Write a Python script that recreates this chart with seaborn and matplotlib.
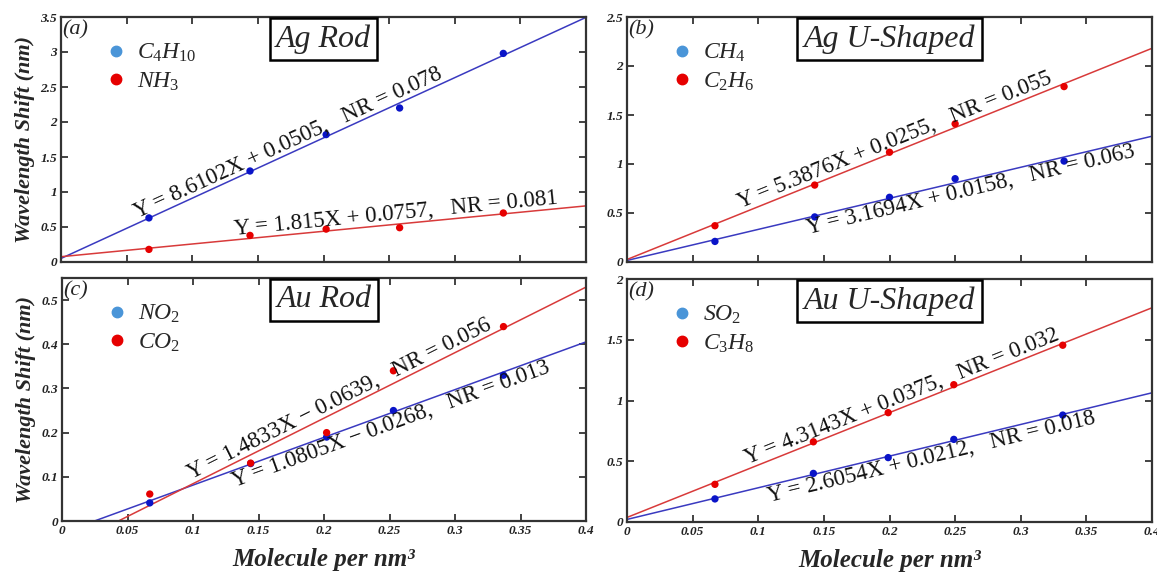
import numpy as np
import matplotlib
matplotlib.use("Agg")
from matplotlib import pyplot as plt
from matplotlib.lines import Line2D
import seaborn as sns

# values
x_a = [0.067, 0.144, 0.202, 0.258, 0.337]
c4h10 = [0.63, 1.30, 1.82, 2.20, 2.98]
nh3 = [0.18, 0.38, 0.47, 0.49, 0.70]

x_b = [0.067, 0.143, 0.200, 0.250, 0.333]
ch4 = [0.21, 0.46, 0.66, 0.85, 1.03]
c2h6 = [0.37, 0.785, 1.12, 1.41, 1.79]

x_c = [0.067, 0.144, 0.202, 0.253, 0.337]
no2 = [0.041, 0.13, 0.19, 0.25, 0.33]
co2 = [0.061, 0.131, 0.20, 0.34, 0.44]

x_d = [0.067, 0.142, 0.199, 0.249, 0.332]
so2 = [0.19, 0.40, 0.53, 0.68, 0.88]
c3h8 = [0.31, 0.66, 0.90, 1.13, 1.455]

# fit coefficients printed on the chart (blue series, red series)
slopes = {"a": (8.6102, 1.815), "b": (3.1694, 5.3876), "c": (1.0805, 1.4833), "d": (2.6054, 4.3143)}
intercepts = {"a": (0.0505, 0.0757), "b": (0.0158, 0.0255), "c": (-0.0268, -0.0639), "d": (0.0212, 0.0375)}
eq_labels = {
    "a": ("Y = 8.6102X + 0.0505,   NR = 0.078", "Y = 1.815X + 0.0757,   NR = 0.081"),
    "b": ("Y = 3.1694X + 0.0158,   NR = 0.063", "Y = 5.3876X + 0.0255,   NR = 0.055"),
    "c": ("Y = 1.0805X \u2212 0.0268,   NR = 0.013", "Y = 1.4833X \u2212 0.0639,   NR = 0.056"),
    "d": ("Y = 2.6054X + 0.0212,   NR = 0.018", "Y = 4.3143X + 0.0375,   NR = 0.032"),
}
titles = {"a": "Ag Rod", "b": "Ag U-Shaped", "c": "Au Rod", "d": "Au U-Shaped"}
gases = {
    "a": (r"$\mathit{C_4H_{10}}$", r"$\mathit{NH_3}$"),
    "b": (r"$\mathit{CH_4}$", r"$\mathit{C_2H_6}$"),
    "c": (r"$\mathit{NO_2}$", r"$\mathit{CO_2}$"),
    "d": (r"$\mathit{SO_2}$", r"$\mathit{C_3H_8}$"),
}
ymax = {"a": 3.5, "b": 2.5, "c": 0.55, "d": 2.0}
ystep = {"a": 0.5, "b": 0.5, "c": 0.1, "d": 0.5}
x_ticks = [0, 0.05, 0.1, 0.15, 0.2, 0.25, 0.3, 0.35, 0.4]

sns.set_theme(style="ticks")
plt.rcParams["font.family"] = ["Liberation Serif", "DejaVu Serif"]
plt.rcParams["mathtext.fontset"] = "custom"
plt.rcParams["mathtext.it"] = "Liberation Serif:italic"
plt.rcParams["mathtext.rm"] = "Liberation Serif"

blue_pt, red_pt = "#0a14c8", "#e60000"
blue_ln, red_ln = "#3a3ac0", "#d83a3a"
blue_leg, red_leg = "#4a95d8", "#e60000"

fig = plt.figure(figsize=(11.57, 5.77), dpi=100)
W, H = 1157, 577
boxes = {
    "a": (61, 17, 586, 262), "b": (627, 17, 1152, 262),
    "c": (62, 278, 586, 521), "d": (627, 279, 1152, 522),
}
data = {
    "a": (x_a, c4h10, nh3), "b": (x_b, ch4, c2h6),
    "c": (x_c, no2, co2), "d": (x_d, so2, c3h8),
}
# where the equations sit along each line (x centre) and on which side
eq_pos = {"a": ((0.176, "bottom"), (0.256, "bottom")),
          "b": ((0.26, "top"), (0.207, "bottom")),
          "c": ((0.248, "top"), (0.215, "bottom")),
          "d": ((0.23, "top"), (0.212, "bottom"))}

for key, (l, t, r, b) in boxes.items():
    ax = fig.add_axes([l / W, 1 - b / H, (r - l) / W, (b - t) / H])
    xs, s1, s2 = data[key]
    m1, m2 = slopes[key]
    b1, b2 = intercepts[key]

    ax.axline((0, b1), slope=m1, color=blue_ln, lw=1.1, zorder=2)
    ax.axline((0, b2), slope=m2, color=red_ln, lw=1.1, zorder=2)
    sns.scatterplot(x=xs, y=s1, color=blue_pt, s=28, edgecolor="none", ax=ax, zorder=3)
    sns.scatterplot(x=xs, y=s2, color=red_pt, s=28, edgecolor="none", ax=ax, zorder=3)

    for (xc, side), m, b0, lab in zip(eq_pos[key], (m1, m2), (b1, b2), eq_labels[key]):
        ax.text(xc, m * xc + b0, lab, fontsize=16.5, color="#111111",
                rotation=np.degrees(np.arctan(m)), transform_rotates_text=True,
                rotation_mode="anchor", ha="center", va=side)

    ax.set_xlim(0, 0.4)
    ax.set_ylim(0, ymax[key])
    ax.set_xticks(x_ticks)
    ax.set_xticklabels(["%g" % v for v in x_ticks])
    yt = np.arange(0, ymax[key] + 1e-9, ystep[key])
    ax.set_yticks(yt)
    ax.set_yticklabels(["%g" % round(v, 2) for v in yt])
    ax.tick_params(direction="in", top=True, right=True, length=5, width=1.2,
                   labelsize=9.5, pad=3, colors="#222222")
    for lab in ax.get_xticklabels() + ax.get_yticklabels():
        lab.set_fontweight("bold")
        lab.set_fontstyle("italic")
    for sp in ax.spines.values():
        sp.set_color("#333333")
        sp.set_linewidth(1.6)

    if key in ("a", "b"):
        ax.tick_params(labelbottom=False)
    else:
        ax.set_xlabel("Molecule per nm\u00b3", fontsize=18, fontweight="bold",
                      fontstyle="italic", labelpad=8)
    if key in ("a", "c"):
        ax.set_ylabel("Wavelength Shift (nm)", fontsize=16, fontweight="bold",
                      fontstyle="italic", labelpad=4)

    ax.text(0.003, 0.985, "(%s)" % key, transform=ax.transAxes, fontsize=16,
            fontstyle="italic", ha="left", va="top")
    ax.text(0.5, 0.91, titles[key], transform=ax.transAxes, fontsize=23,
            fontstyle="italic", ha="center", va="center", zorder=5,
            bbox=dict(boxstyle="square,pad=0.2", fc="white", ec="black", lw=1.8))

    handles = [Line2D([], [], marker="o", ls="", color=blue_leg, markersize=7.5),
               Line2D([], [], marker="o", ls="", color=red_leg, markersize=7.5)]
    ax.legend(handles, gases[key], loc="upper left", bbox_to_anchor=(0.055, 0.955),
              frameon=False, fontsize=17, handletextpad=0.4, labelspacing=0.25,
              handlelength=1.0, borderaxespad=0.2)

fig.savefig("out.png", dpi=100)
